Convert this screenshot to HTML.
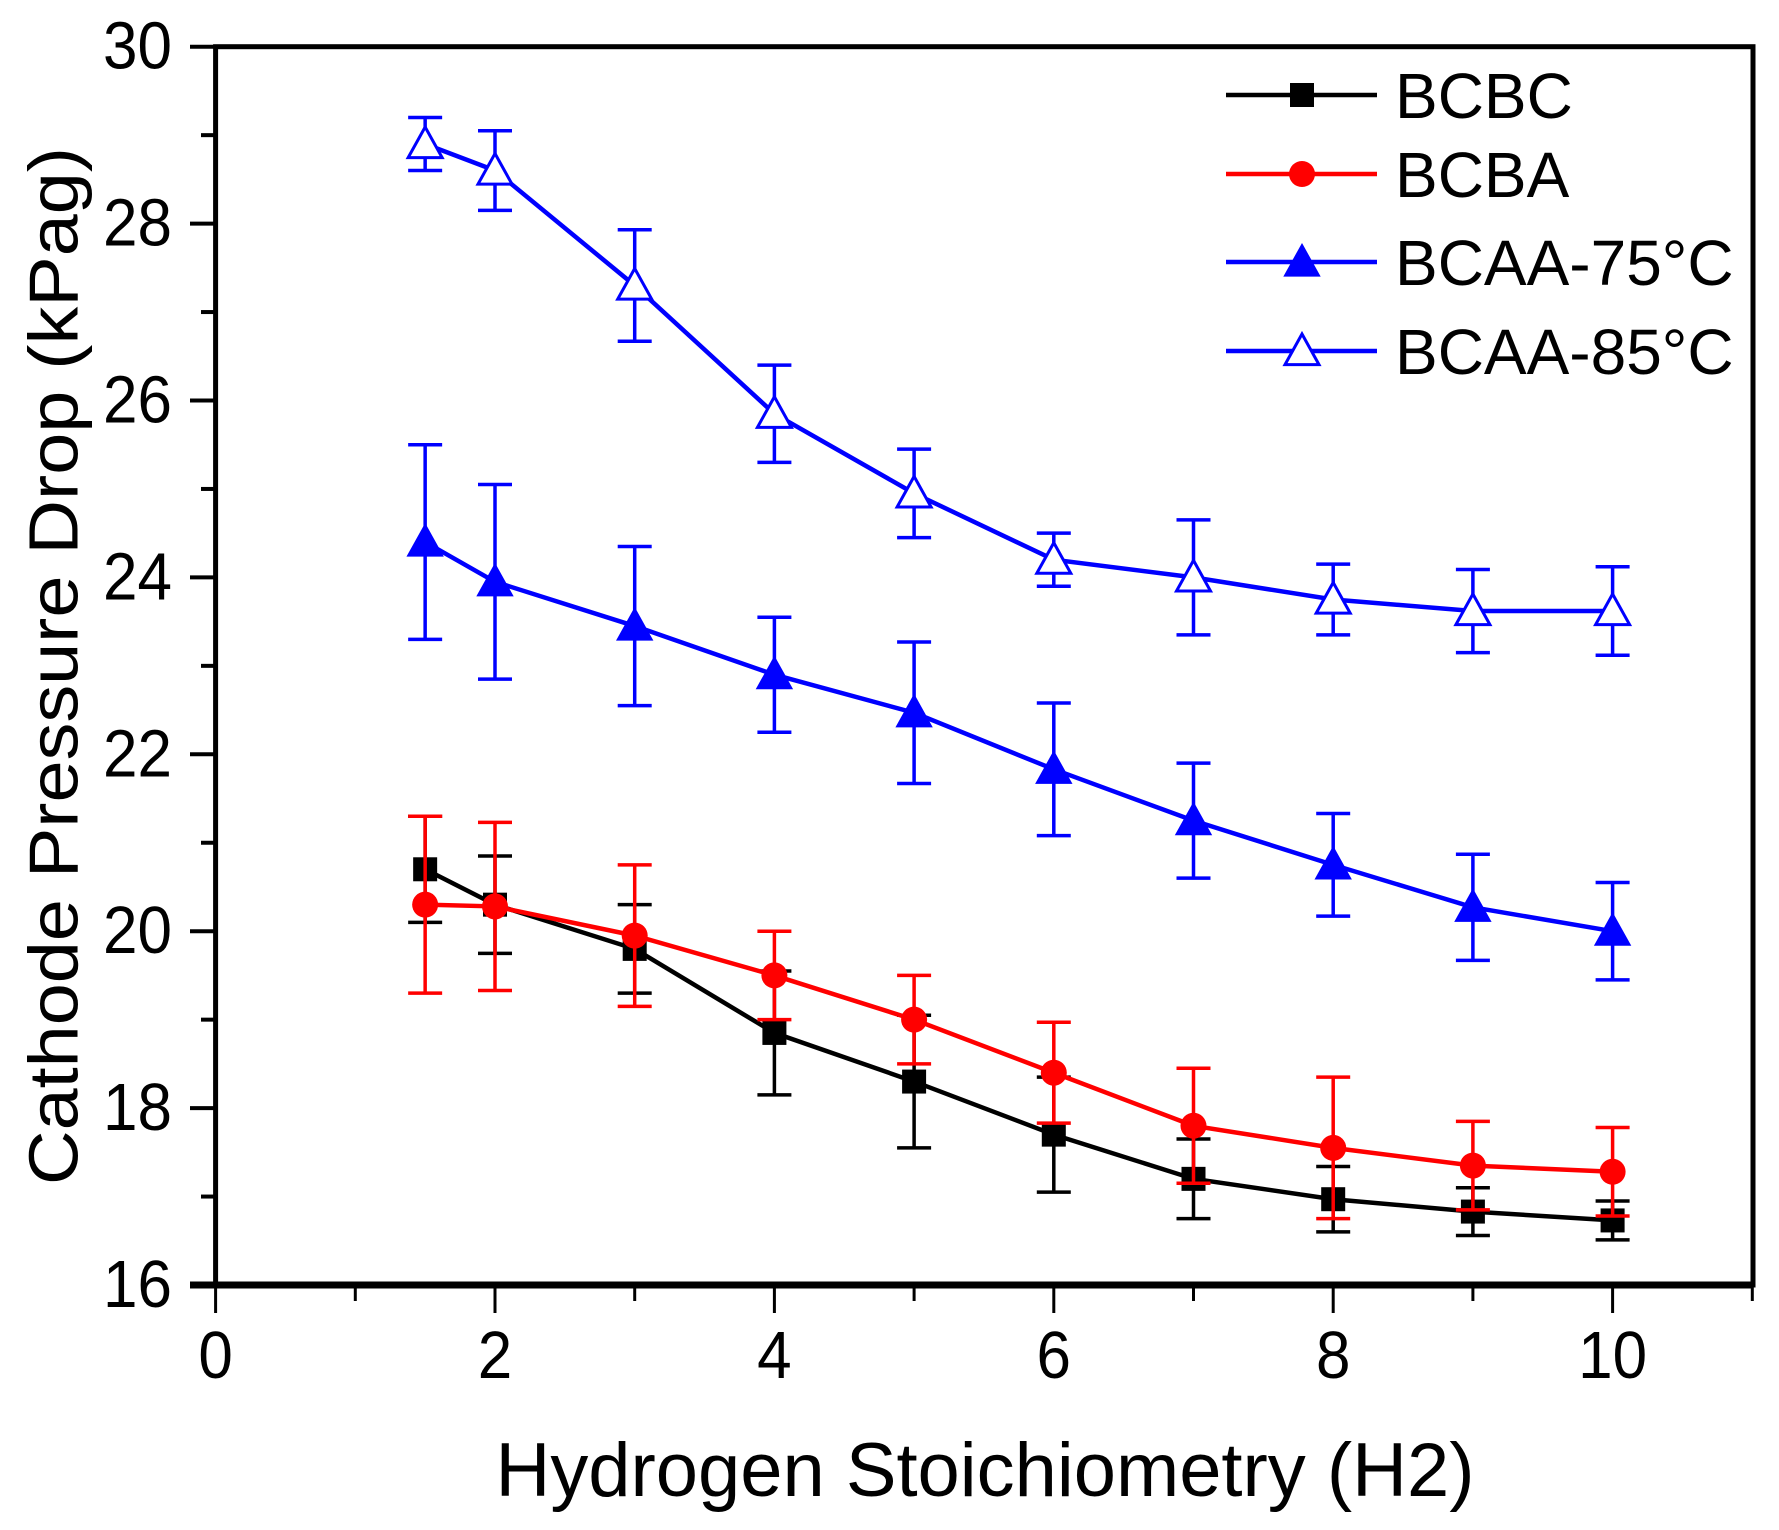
<!DOCTYPE html>
<html><head><meta charset="utf-8"><style>
html,body{margin:0;padding:0;background:#fff;}
svg{display:block;font-family:"Liberation Sans",Arial,sans-serif;}
</style></head><body>
<svg id="chart" width="1779" height="1530" viewBox="0 0 1779 1530" xmlns="http://www.w3.org/2000/svg">
<rect width="1779" height="1530" fill="#fff"/>
<g id="plot"></g>
<text transform="translate(54,666) rotate(-90) scale(1,0.92)" text-anchor="middle" dominant-baseline="central" font-size="76" textLength="1038" lengthAdjust="spacingAndGlyphs">Cathode Pressure Drop (kPag)</text>
<text x="985" y="1496" text-anchor="middle" font-size="76" textLength="979" lengthAdjust="spacingAndGlyphs">Hydrogen Stoichiometry (H2)</text>
</svg>
<script>
const xVals = [1.5,2,3,4,5,6,7,8,9,10];
const bcbc = [20.7,20.3,19.8,18.85,18.3,17.7,17.2,16.97,16.83,16.73];
const bcbcErr = [0.6,0.55,0.5,0.7,0.75,0.65,0.45,0.37,0.27,0.22];
const bcba = [20.3,20.28,19.95,19.5,19.0,18.4,17.8,17.55,17.35,17.28];
const bcbaErr = [1.0,0.95,0.8,0.5,0.5,0.57,0.65,0.8,0.5,0.5];
const bcaa75 = [24.4,23.95,23.45,22.9,22.47,21.83,21.25,20.75,20.27,20.0];
const bcaa75Err = [1.1,1.1,0.9,0.65,0.8,0.75,0.65,0.58,0.6,0.55];
const bcaa85 = [28.9,28.6,27.3,25.85,24.95,24.2,24.0,23.75,23.62,23.62];
const bcaa85Err = [0.3,0.45,0.63,0.55,0.5,0.3,0.65,0.4,0.47,0.5];
const xTicks = [0,2,4,6,8,10];
const yTicks = [16,18,20,22,24,26,28,30];
const seriesNames = ["BCBC","BCBA","BCAA-75°C","BCAA-85°C"];

const L=215.6,R=1753,T=46.7,B=1285;
const xs = v => L + v*139.7;
const ys = v => B - (v-16)*(B-T)/14;
const NS="http://www.w3.org/2000/svg";
const g=document.getElementById('plot');
function mk(tag,attrs,parent){const e=document.createElementNS(NS,tag);for(const k in attrs)e.setAttribute(k,attrs[k]);(parent||g).appendChild(e);return e;}

let e;
e=mk('rect',{x:L,y:T,width:R-L,height:B-T,fill:'none',stroke:'#000','stroke-width':5});


e=mk('line',{x1:190,x2:R,y1:B,y2:B,stroke:'#000','stroke-width':7});



for(let v=16;v<=30;v+=1){
  const maj=(v%2===0);
  e=mk('line',{x1:maj?190:201,x2:L,y1:ys(v),y2:ys(v),stroke:'#000','stroke-width':4});
  
  
}
yTicks.forEach(v=>{
  e=mk('text',{x:172,y:ys(v)+22,'text-anchor':'end','font-size':62,transform:`translate(0,${ys(v)+22}) scale(1,1.08) translate(0,${-(ys(v)+22)})`});
  e.textContent=v;
  
  
});
for(let v=0;v<=11;v+=1){
  const maj=(v%2===0);
  e=mk('line',{x1:xs(v),x2:xs(v),y1:B,y2:maj?1313:1301,stroke:'#000','stroke-width':3});
  
  
}
xTicks.forEach(v=>{
  e=mk('text',{x:xs(v),y:1378,'text-anchor':'middle','font-size':62,transform:`translate(0,1378) scale(1,1.08) translate(0,-1378)`});
  e.textContent=v;
  
  
});

function marker(type,color,cx,cy,parent){
  if(type==='square') return mk('rect',{x:cx-12,y:cy-12,width:24,height:24,fill:color},parent);
  if(type==='circle') return mk('circle',{cx:cx,cy:cy,r:13,fill:color},parent);
  const s=17;
  return mk('polygon',{points:`${cx},${cy-s} ${cx+s},${cy+s*0.8} ${cx-s},${cy+s*0.8}`,fill:type==='tri'?color:'#fff',stroke:color,'stroke-width':type==='tri'?2:3},parent);
}
const series=[
  {vals:bcbc,err:bcbcErr,color:'#000',m:'square',name:'series-bcbc'},
  {vals:bcba,err:bcbaErr,color:'#f00',m:'circle',name:'series-bcba'},
  {vals:bcaa75,err:bcaa75Err,color:'#00f',m:'tri',name:'series-bcaa-75'},
  {vals:bcaa85,err:bcaa85Err,color:'#00f',m:'otri',name:'series-bcaa-85'}
];
series.forEach(s=>{
  const sg=mk('g',{});
  
  
  s.vals.forEach((v,i)=>{
    const x=xs(xVals[i]),y1=ys(v+s.err[i]),y2=ys(v-s.err[i]);
    e=mk('path',{d:`M${x},${y1}V${y2}M${x-17},${y1}H${x+17}M${x-17},${y2}H${x+17}`,stroke:s.color,'stroke-width':3.5,fill:'none'},sg);
    
    
  });
  e=mk('polyline',{points:s.vals.map((v,i)=>xs(xVals[i])+','+ys(v)).join(' '),fill:'none',stroke:s.color,'stroke-width':4.5},sg);
  
  
  s.vals.forEach((v,i)=>{
    e=marker(s.m,s.color,xs(xVals[i]),ys(v),sg);
    
    
  });
});
const legY=[95,174,262,351];
const legW=[190,190,330,330];
series.forEach((s,i)=>{
  const lg=mk('g',{});
  
  
  mk('line',{x1:1226,x2:1377,y1:legY[i],y2:legY[i],stroke:s.color,'stroke-width':4.5},lg);
  marker(s.m,s.color,1302,legY[i],lg);
  const t=mk('text',{x:1395,y:legY[i]+23,'font-size':64},lg);
  t.textContent=seriesNames[i];
});
</script>
</body></html>
